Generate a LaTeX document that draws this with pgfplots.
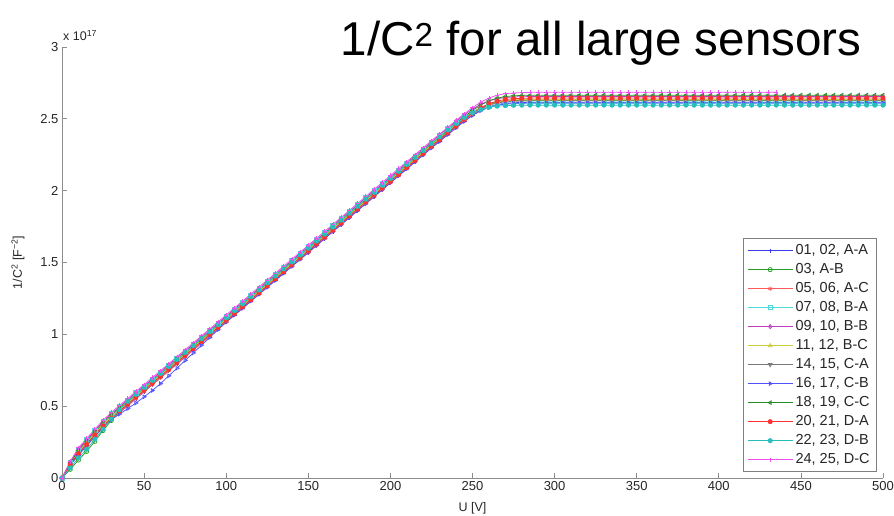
\documentclass[border=0pt]{standalone}
\usepackage{fontspec}
\setmainfont{Liberation Sans}
\usepackage{pgfplots}
\usepackage{pgfplotstable}
\pgfplotsset{compat=1.18}
\definecolor{c1}{RGB}{60,60,230}
\definecolor{c2}{RGB}{40,160,40}
\definecolor{c3}{RGB}{255,90,90}
\definecolor{c4}{RGB}{80,215,215}
\definecolor{c5}{RGB}{190,60,190}
\definecolor{c6}{RGB}{205,205,60}
\definecolor{c7}{RGB}{120,120,120}
\definecolor{c8}{RGB}{80,80,255}
\definecolor{c9}{RGB}{40,140,40}
\definecolor{c10}{RGB}{255,50,50}
\definecolor{c11}{RGB}{40,190,190}
\definecolor{c12}{RGB}{240,80,240}
\pgfplotstableread{
U s1 s2 s3 s4 s5 s6 s7 s8 s9 s10 s11 s12
0 0 0 0 0 0 0 0 0 0 0 0 0
5 0.090 0.060 0.090 0.110 0.110 0.100 0.095 0.090 0.105 0.095 0.070 0.115
10 0.160 0.125 0.160 0.200 0.200 0.180 0.170 0.160 0.190 0.170 0.140 0.210
15 0.225 0.185 0.225 0.265 0.265 0.245 0.235 0.225 0.255 0.235 0.200 0.275
20 0.290 0.255 0.290 0.330 0.330 0.310 0.300 0.290 0.320 0.300 0.270 0.340
25 0.352 0.330 0.352 0.392 0.392 0.372 0.362 0.352 0.382 0.362 0.340 0.402
30 0.406 0.400 0.406 0.446 0.446 0.426 0.416 0.406 0.436 0.416 0.410 0.456
35 0.455 0.465 0.455 0.495 0.495 0.475 0.465 0.445 0.485 0.465 0.475 0.505
40 0.503 0.523 0.503 0.543 0.543 0.523 0.513 0.483 0.533 0.513 0.533 0.553
45 0.552 0.572 0.552 0.592 0.592 0.572 0.562 0.522 0.582 0.562 0.582 0.602
50 0.600 0.620 0.600 0.640 0.640 0.620 0.610 0.565 0.630 0.610 0.630 0.650
55 0.649 0.669 0.649 0.689 0.689 0.669 0.659 0.609 0.679 0.659 0.679 0.699
60 0.697 0.717 0.697 0.737 0.737 0.717 0.707 0.657 0.727 0.707 0.727 0.747
65 0.746 0.766 0.746 0.786 0.786 0.766 0.756 0.711 0.776 0.756 0.776 0.796
70 0.794 0.814 0.794 0.834 0.834 0.814 0.804 0.764 0.824 0.804 0.824 0.844
75 0.843 0.863 0.843 0.883 0.883 0.863 0.853 0.818 0.873 0.853 0.873 0.893
80 0.891 0.911 0.891 0.931 0.931 0.911 0.901 0.871 0.921 0.901 0.921 0.941
85 0.940 0.960 0.940 0.980 0.980 0.960 0.950 0.925 0.970 0.950 0.970 0.990
90 0.988 1.008 0.988 1.028 1.028 1.008 0.998 0.978 1.018 0.998 1.018 1.038
95 1.037 1.057 1.037 1.077 1.077 1.057 1.047 1.032 1.067 1.047 1.067 1.087
100 1.085 1.105 1.085 1.125 1.125 1.105 1.095 1.085 1.115 1.095 1.115 1.135
105 1.134 1.154 1.134 1.174 1.174 1.154 1.144 1.134 1.164 1.144 1.164 1.184
110 1.182 1.202 1.182 1.222 1.222 1.202 1.192 1.182 1.212 1.192 1.212 1.232
115 1.231 1.251 1.231 1.271 1.271 1.251 1.241 1.231 1.261 1.241 1.261 1.281
120 1.279 1.299 1.279 1.319 1.319 1.299 1.289 1.279 1.309 1.289 1.309 1.329
125 1.328 1.348 1.328 1.368 1.368 1.348 1.338 1.328 1.358 1.338 1.358 1.378
130 1.376 1.396 1.376 1.416 1.416 1.396 1.386 1.376 1.406 1.386 1.406 1.426
135 1.425 1.445 1.425 1.465 1.465 1.445 1.435 1.425 1.455 1.435 1.455 1.475
140 1.473 1.493 1.473 1.513 1.513 1.493 1.483 1.473 1.503 1.483 1.503 1.523
145 1.522 1.542 1.522 1.562 1.562 1.542 1.532 1.522 1.552 1.532 1.552 1.572
150 1.570 1.590 1.570 1.610 1.610 1.590 1.580 1.570 1.600 1.580 1.600 1.620
155 1.619 1.639 1.619 1.659 1.659 1.639 1.629 1.619 1.649 1.629 1.649 1.669
160 1.667 1.687 1.667 1.707 1.707 1.687 1.677 1.667 1.697 1.677 1.697 1.717
165 1.716 1.736 1.716 1.756 1.756 1.736 1.726 1.716 1.746 1.726 1.746 1.766
170 1.764 1.784 1.764 1.804 1.804 1.784 1.774 1.764 1.794 1.774 1.794 1.814
175 1.813 1.833 1.813 1.853 1.853 1.833 1.823 1.813 1.843 1.823 1.843 1.863
180 1.861 1.881 1.861 1.901 1.901 1.881 1.871 1.861 1.891 1.871 1.891 1.911
185 1.910 1.930 1.910 1.950 1.950 1.930 1.920 1.910 1.940 1.920 1.940 1.960
190 1.958 1.978 1.958 1.998 1.998 1.978 1.968 1.958 1.988 1.968 1.988 2.008
195 2.007 2.027 2.007 2.047 2.047 2.027 2.017 2.007 2.037 2.017 2.037 2.057
200 2.055 2.075 2.055 2.095 2.095 2.075 2.065 2.055 2.085 2.065 2.085 2.105
205 2.104 2.124 2.104 2.144 2.144 2.124 2.114 2.104 2.134 2.114 2.134 2.154
210 2.152 2.172 2.152 2.192 2.192 2.172 2.162 2.152 2.182 2.162 2.182 2.202
215 2.201 2.221 2.201 2.241 2.241 2.221 2.211 2.201 2.231 2.211 2.231 2.251
220 2.249 2.269 2.249 2.289 2.289 2.269 2.259 2.249 2.279 2.259 2.279 2.299
225 2.298 2.318 2.298 2.338 2.338 2.318 2.308 2.298 2.328 2.308 2.328 2.348
230 2.347 2.363 2.344 2.385 2.388 2.368 2.358 2.343 2.374 2.354 2.375 2.394
235 2.395 2.410 2.392 2.432 2.435 2.415 2.405 2.390 2.422 2.402 2.422 2.442
240 2.442 2.457 2.439 2.477 2.482 2.462 2.452 2.437 2.469 2.449 2.467 2.489
245 2.487 2.502 2.485 2.518 2.527 2.507 2.497 2.482 2.515 2.495 2.508 2.535
250 2.528 2.543 2.528 2.551 2.568 2.548 2.538 2.523 2.558 2.538 2.541 2.578
255 2.561 2.576 2.566 2.575 2.601 2.581 2.571 2.556 2.596 2.576 2.565 2.616
260 2.585 2.600 2.595 2.590 2.625 2.605 2.595 2.580 2.625 2.605 2.580 2.645
265 2.600 2.615 2.614 2.598 2.640 2.620 2.610 2.595 2.644 2.624 2.588 2.664
270 2.608 2.623 2.625 2.602 2.648 2.628 2.618 2.603 2.655 2.635 2.592 2.675
275 2.612 2.627 2.630 2.604 2.652 2.632 2.622 2.607 2.660 2.640 2.594 2.680
280 2.614 2.629 2.633 2.605 2.654 2.634 2.624 2.609 2.663 2.643 2.595 2.683
285 2.615 2.630 2.634 2.605 2.655 2.635 2.625 2.610 2.664 2.644 2.595 2.684
290 2.615 2.630 2.635 2.605 2.655 2.635 2.625 2.610 2.665 2.645 2.595 2.685
295 2.615 2.630 2.635 2.605 2.655 2.635 2.625 2.610 2.665 2.645 2.595 2.685
300 2.615 2.630 2.635 2.605 2.655 2.635 2.625 2.610 2.665 2.645 2.595 2.685
305 2.615 2.630 2.635 2.605 2.655 2.635 2.625 2.610 2.665 2.645 2.595 2.685
310 2.615 2.630 2.635 2.605 2.655 2.635 2.625 2.610 2.665 2.645 2.595 2.685
315 2.615 2.630 2.635 2.605 2.655 2.635 2.625 2.610 2.665 2.645 2.595 2.685
320 2.615 2.630 2.635 2.605 2.655 2.635 2.625 2.610 2.665 2.645 2.595 2.685
325 2.615 2.630 2.635 2.605 2.655 2.635 2.625 2.610 2.665 2.645 2.595 2.685
330 2.615 2.630 2.635 2.605 2.655 2.635 2.625 2.610 2.665 2.645 2.595 2.685
335 2.615 2.630 2.635 2.605 2.655 2.635 2.625 2.610 2.665 2.645 2.595 2.685
340 2.615 2.630 2.635 2.605 2.655 2.635 2.625 2.610 2.665 2.645 2.595 2.685
345 2.615 2.630 2.635 2.605 2.655 2.635 2.625 2.610 2.665 2.645 2.595 2.685
350 2.615 2.630 2.635 2.605 2.655 2.635 2.625 2.610 2.665 2.645 2.595 2.685
355 2.615 2.630 2.635 2.605 2.655 2.635 2.625 2.610 2.665 2.645 2.595 2.685
360 2.615 2.630 2.635 2.605 2.655 2.635 2.625 2.610 2.665 2.645 2.595 2.685
365 2.615 2.630 2.635 2.605 2.655 2.635 2.625 2.610 2.665 2.645 2.595 2.685
370 2.615 2.630 2.635 2.605 2.655 2.635 2.625 2.610 2.665 2.645 2.595 2.685
375 2.615 2.630 2.635 2.605 2.655 2.635 2.625 2.610 2.665 2.645 2.595 2.685
380 2.615 2.630 2.635 2.605 2.655 2.635 2.625 2.610 2.665 2.645 2.595 2.685
385 2.615 2.630 2.635 2.605 2.655 2.635 2.625 2.610 2.665 2.645 2.595 2.685
390 2.615 2.630 2.635 2.605 2.655 2.635 2.625 2.610 2.665 2.645 2.595 2.685
395 2.615 2.630 2.635 2.605 2.655 2.635 2.625 2.610 2.665 2.645 2.595 2.685
400 2.615 2.630 2.635 2.605 2.655 2.635 2.625 2.610 2.665 2.645 2.595 2.685
405 2.615 2.630 2.635 2.605 2.655 2.635 2.625 2.610 2.665 2.645 2.595 2.685
410 2.615 2.630 2.635 2.605 2.655 2.635 2.625 2.610 2.665 2.645 2.595 2.685
415 2.615 2.630 2.635 2.605 2.655 2.635 2.625 2.610 2.665 2.645 2.595 2.685
420 2.615 2.630 2.635 2.605 2.655 2.635 2.625 2.610 2.665 2.645 2.595 2.685
425 2.615 2.630 2.635 2.605 2.655 2.635 2.625 2.610 2.665 2.645 2.595 2.685
430 2.615 2.630 2.635 2.605 2.655 2.635 2.625 2.610 2.665 2.645 2.595 2.685
435 2.615 2.630 2.635 2.605 2.655 2.635 2.625 2.610 2.665 2.645 2.595 2.685
440 2.615 2.630 2.635 2.605 2.655 2.635 2.625 2.610 2.665 2.645 2.595 nan
445 2.615 2.630 2.635 2.605 2.655 2.635 2.625 2.610 2.665 2.645 2.595 nan
450 2.615 2.630 2.635 2.605 2.655 2.635 2.625 2.610 2.665 2.645 2.595 nan
455 2.615 2.630 2.635 2.605 2.655 2.635 2.625 2.610 2.665 2.645 2.595 nan
460 2.615 2.630 2.635 2.605 2.655 2.635 2.625 2.610 2.665 2.645 2.595 nan
465 2.615 2.630 2.635 2.605 2.655 2.635 2.625 2.610 2.665 2.645 2.595 nan
470 2.615 2.630 2.635 2.605 2.655 2.635 2.625 2.610 2.665 2.645 2.595 nan
475 2.615 2.630 2.635 2.605 2.655 2.635 2.625 2.610 2.665 2.645 2.595 nan
480 2.615 2.630 2.635 2.605 2.655 2.635 2.625 2.610 2.665 2.645 2.595 nan
485 2.615 2.630 2.635 2.605 2.655 2.635 2.625 2.610 2.665 2.645 2.595 nan
490 2.615 2.630 2.635 2.605 2.655 2.635 2.625 2.610 2.665 2.645 2.595 nan
495 2.615 2.630 2.635 2.605 2.655 2.635 2.625 2.610 2.665 2.645 2.595 nan
500 2.615 2.630 2.635 2.605 2.655 2.635 2.625 2.610 2.665 2.645 2.595 nan
}\data
\begin{document}
\begin{tikzpicture}
\useasboundingbox (-62bp,-38bp) rectangle (832bp,478bp);
\begin{axis}[
  at={(0,0)}, anchor=south west,
  width=821bp, height=431bp, scale only axis,
  clip=false,
  xmin=0, xmax=500, ymin=0, ymax=3,
  xtick={0,50,...,500}, ytick={0,0.5,1,1.5,2,2.5,3},
  axis x line*=bottom, axis y line*=left,
  axis line style={draw=black!45, line width=0.8bp},
  tick align=inside,
  major tick length=5bp,
  tick style={draw=black!45, line width=0.8bp},
  tick label style={font=\fontsize{13bp}{15bp}\selectfont, text=black!85},
  /pgf/number format/assume math mode=true,
  every axis x label/.style={at={(axis description cs:0.5,-0.0696)}, anchor=center},
  every axis y label/.style={at={(axis description cs:-0.0536,0.5)}, anchor=center, rotate=90},
  label style={font=\fontsize{12.5bp}{14bp}\selectfont, text=black!85},
  xlabel={U [V]},
  ylabel={1/C\textsuperscript{2} [F\textsuperscript{−2}]},
  every axis plot/.append style={line width=0.75bp, mark size=2.1bp},
  legend image code/.code={\draw[mark repeat=2,mark phase=2] plot coordinates {(0bp,0bp) (22.5bp,0bp) (45bp,0bp)};},
  legend style={at={(rel axis cs:0.9927,0.014)}, anchor=south east, draw=black!50, line width=0.6bp,
    font=\fontsize{14.5bp}{16bp}\selectfont, text=black!85,
    inner xsep=4.5bp, inner ysep=2.5bp,
    nodes={inner xsep=2.5bp, inner ysep=2.75bp, text height=10.5bp, text depth=3bp}},
  legend cell align=left,
]
\addplot[c1, mark=+] table[x=U, y=s1] {\data};
\addlegendentry{01, 02, A-A}
\addplot[c2, mark=o] table[x=U, y=s2] {\data};
\addlegendentry{03, A-B}
\addplot[c3, mark=asterisk] table[x=U, y=s3] {\data};
\addlegendentry{05, 06, A-C}
\addplot[c4, mark=square] table[x=U, y=s4] {\data};
\addlegendentry{07, 08, B-A}
\addplot[c5, mark=diamond] table[x=U, y=s5] {\data};
\addlegendentry{09, 10, B-B}
\addplot[c6, mark=triangle] table[x=U, y=s6] {\data};
\addlegendentry{11, 12, B-C}
\addplot[c7, mark=triangle, mark options={rotate=180}] table[x=U, y=s7] {\data};
\addlegendentry{14, 15, C-A}
\addplot[c8, mark=triangle, mark options={rotate=-90}] table[x=U, y=s8] {\data};
\addlegendentry{16, 17, C-B}
\addplot[c9, mark=triangle, mark options={rotate=90}] table[x=U, y=s9] {\data};
\addlegendentry{18, 19, C-C}
\addplot[c10, mark=*] table[x=U, y=s10] {\data};
\addlegendentry{20, 21, D-A}
\addplot[c11, mark=*] table[x=U, y=s11] {\data};
\addlegendentry{22, 23, D-B}
\addplot[c12, mark=+] table[x=U, y=s12] {\data};
\addlegendentry{24, 25, D-C}
\node[anchor=base west, font=\fontsize{12.5bp}{14bp}\selectfont, text=black!85, inner sep=0pt, xshift=1bp, yshift=6bp] at (rel axis cs:0,1) {x 10\textsuperscript{17}};
\node[anchor=base, font=\fontsize{47.5bp}{50bp}\selectfont, inner sep=0pt] at (rel axis cs:0.6565,0.981) {1/C\textsuperscript{2} for all large sensors};
\end{axis}
\end{tikzpicture}
\end{document}
